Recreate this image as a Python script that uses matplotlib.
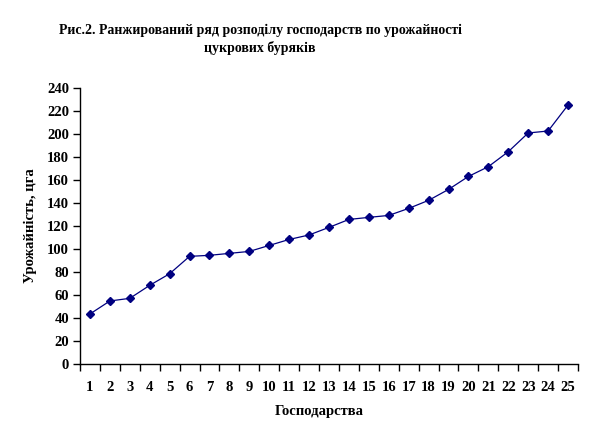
import numpy as np
import matplotlib.pyplot as plt

# ranked yield of sugar beet per farm
farms = list(range(1, 26))
yields = [43.5, 54.8, 57.1, 68.4, 78.5, 93.6, 94.5, 96.2, 97.9, 103.1,
          108.3, 112.2, 118.8, 125.7, 127.5, 129.2, 135.3, 142.3, 151.8, 163.1,
          171.6, 184.6, 200.9, 202.6, 225.2]
yticks = list(range(0, 241, 20))

title = "Рис.2. Ранжирований ряд розподілу господарств по урожайності\nцукрових буряків"
xlab = "Господарства"
ylab = "Урожайність, цга"

plt.rcParams['font.family'] = ['Liberation Serif', 'DejaVu Serif']
plt.rcParams['font.weight'] = 'bold'

fig = plt.figure(figsize=(5.94, 4.41), dpi=100)
ax = fig.add_axes([80 / 594, 1 - 364 / 441, 498 / 594, 276 / 441])

ax.plot(farms, yields, color='#000080', lw=0.9, marker='D', ms=4.2,
        mfc='#000080', mec='#000080')

ax.set_xlim(0.5, 25.5)
ax.set_ylim(0, 240)
ax.set_yticks(yticks)
ax.set_yticklabels([str(v) for v in yticks], fontsize=10.5, fontweight='bold')

# tick marks between categories, labels centred on categories
ax.set_xticks(np.arange(0.5, 26, 1))
ax.set_xticklabels([])
ax.set_xticks(farms, minor=True)
ax.set_xticklabels([str(f) for f in farms], minor=True, fontsize=10.5, fontweight='bold')
ax.tick_params(axis='x', which='major', direction='out', length=5, width=1)
ax.tick_params(axis='x', which='minor', length=0, pad=12)
ax.tick_params(axis='y', direction='out', length=5, width=1, pad=3)

for s in ['top', 'right']:
    ax.spines[s].set_visible(False)
for s in ['left', 'bottom']:
    ax.spines[s].set_linewidth(1)

fig.text(0.438, 1 - 39 / 441, title, ha='center', va='center', fontsize=10,
         fontweight='bold', linespacing=1.35)
fig.text(0.538, 1 - 411 / 441, xlab, ha='center', va='center', fontsize=10.5, fontweight='bold')
fig.text(30 / 594, 1 - 226 / 441, ylab, ha='center', va='center', rotation=90,
         fontsize=10.5, fontweight='bold')

fig.savefig('out.png', dpi=100)
